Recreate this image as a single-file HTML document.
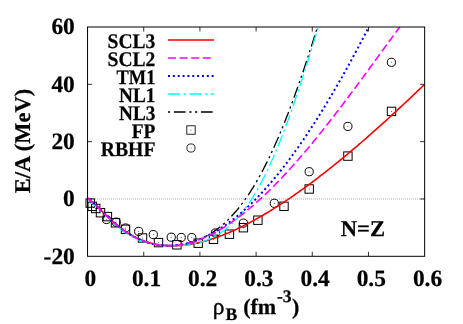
<!DOCTYPE html>
<html><head><meta charset="utf-8"><title>E/A</title>
<style>html,body{margin:0;padding:0;background:#fff;overflow:hidden}svg{display:block}text{font-family:"Liberation Serif",serif;font-weight:bold;font-size:22px;fill:#000;stroke:#000;stroke-width:0.25px;text-rendering:geometricPrecision}.lg{font-size:20.7px}.tk{font-size:23.4px}</style></head><body>
<svg width="463" height="324" viewBox="0 0 463 324">
<rect width="463" height="324" fill="#fff"/>
<line x1="89" y1="198.98" x2="424.65" y2="198.98" stroke="#a8a8a8" stroke-width="1" stroke-dasharray="1 1"/>
<path d="M143.73,256.3v-4.5M143.73,27.0v4.5M199.92,256.3v-4.5M199.92,27.0v4.5M256.10,256.3v-4.5M256.10,27.0v4.5M312.28,256.3v-4.5M312.28,27.0v4.5M368.47,256.3v-4.5M368.47,27.0v4.5M87.55,198.98h4.5M424.65,198.98h-4.5M87.55,141.65h4.5M424.65,141.65h-4.5M87.55,84.32h4.5M424.65,84.32h-4.5" stroke="#000" stroke-width="0.8" fill="none"/>
<clipPath id="c"><rect x="87.55" y="27.0" width="337.09999999999997" height="229.3"/></clipPath>
<g fill="none" stroke="#000" stroke-width="1">
<rect x="86.0" y="198.9" width="8.4" height="8.4"/><circle cx="90.2" cy="203.1" r="0.5" fill="#444" stroke="none"/>
<rect x="88.0" y="202.2" width="8.4" height="8.4"/><circle cx="92.2" cy="206.4" r="0.5" fill="#444" stroke="none"/>
<rect x="91.5" y="204.3" width="8.4" height="8.4"/><circle cx="95.7" cy="208.5" r="0.5" fill="#444" stroke="none"/>
<rect x="96.3" y="208.5" width="8.4" height="8.4"/><circle cx="100.5" cy="212.7" r="0.5" fill="#444" stroke="none"/>
<rect x="103.2" y="212.4" width="8.4" height="8.4"/><circle cx="107.4" cy="216.6" r="0.5" fill="#444" stroke="none"/>
<rect x="111.3" y="218.6" width="8.4" height="8.4"/><circle cx="115.5" cy="222.8" r="0.5" fill="#444" stroke="none"/>
<rect x="121.3" y="225.1" width="8.4" height="8.4"/><circle cx="125.5" cy="229.3" r="0.5" fill="#444" stroke="none"/>
<rect x="138.3" y="233.8" width="8.4" height="8.4"/><circle cx="142.5" cy="238.0" r="0.5" fill="#444" stroke="none"/>
<rect x="154.3" y="238.4" width="8.4" height="8.4"/><circle cx="158.5" cy="242.6" r="0.5" fill="#444" stroke="none"/>
<rect x="172.7" y="240.6" width="8.4" height="8.4"/><circle cx="176.9" cy="244.8" r="0.5" fill="#444" stroke="none"/>
<rect x="194.0" y="239.0" width="8.4" height="8.4"/><circle cx="198.2" cy="243.2" r="0.5" fill="#444" stroke="none"/>
<rect x="209.3" y="235.1" width="8.4" height="8.4"/><circle cx="213.5" cy="239.3" r="0.5" fill="#444" stroke="none"/>
<rect x="225.2" y="230.0" width="8.4" height="8.4"/><circle cx="229.4" cy="234.2" r="0.5" fill="#444" stroke="none"/>
<rect x="239.2" y="223.5" width="8.4" height="8.4"/><circle cx="243.4" cy="227.7" r="0.5" fill="#444" stroke="none"/>
<rect x="253.7" y="216.0" width="8.4" height="8.4"/><circle cx="257.9" cy="220.2" r="0.5" fill="#444" stroke="none"/>
<rect x="279.8" y="202.1" width="8.4" height="8.4"/><circle cx="284.0" cy="206.3" r="0.5" fill="#444" stroke="none"/>
<rect x="305.0" y="184.8" width="8.4" height="8.4"/><circle cx="309.2" cy="189.0" r="0.5" fill="#444" stroke="none"/>
<rect x="343.7" y="151.9" width="8.4" height="8.4"/><circle cx="347.9" cy="156.1" r="0.5" fill="#444" stroke="none"/>
<rect x="387.3" y="107.2" width="8.4" height="8.4"/><circle cx="391.5" cy="111.4" r="0.5" fill="#444" stroke="none"/>
<circle cx="106.5" cy="219.5" r="4.1"/><circle cx="106.5" cy="219.5" r="0.5" fill="#444" stroke="none"/>
<circle cx="116.2" cy="222.1" r="4.1"/><circle cx="116.2" cy="222.1" r="0.5" fill="#444" stroke="none"/>
<circle cx="125.5" cy="228.0" r="4.1"/><circle cx="125.5" cy="228.0" r="0.5" fill="#444" stroke="none"/>
<circle cx="138.7" cy="231.4" r="4.1"/><circle cx="138.7" cy="231.4" r="0.5" fill="#444" stroke="none"/>
<circle cx="153.3" cy="234.6" r="4.1"/><circle cx="153.3" cy="234.6" r="0.5" fill="#444" stroke="none"/>
<circle cx="171.2" cy="237.2" r="4.1"/><circle cx="171.2" cy="237.2" r="0.5" fill="#444" stroke="none"/>
<circle cx="181.2" cy="237.5" r="4.1"/><circle cx="181.2" cy="237.5" r="0.5" fill="#444" stroke="none"/>
<circle cx="191.8" cy="237.6" r="4.1"/><circle cx="191.8" cy="237.6" r="0.5" fill="#444" stroke="none"/>
<circle cx="215.4" cy="233.0" r="4.1"/><circle cx="215.4" cy="233.0" r="0.5" fill="#444" stroke="none"/>
<circle cx="243.4" cy="223.1" r="4.1"/><circle cx="243.4" cy="223.1" r="0.5" fill="#444" stroke="none"/>
<circle cx="274.3" cy="203.3" r="4.1"/><circle cx="274.3" cy="203.3" r="0.5" fill="#444" stroke="none"/>
<circle cx="309.2" cy="171.7" r="4.1"/><circle cx="309.2" cy="171.7" r="0.5" fill="#444" stroke="none"/>
<circle cx="347.9" cy="126.4" r="4.1"/><circle cx="347.9" cy="126.4" r="0.5" fill="#444" stroke="none"/>
<circle cx="391.4" cy="62.3" r="4.1"/><circle cx="391.4" cy="62.3" r="0.5" fill="#444" stroke="none"/>
<g stroke-width="0.85"><rect x="186.8" y="125.8" width="8.4" height="8.4"/><circle cx="191.0" cy="130.0" r="0.5" fill="#444" stroke="none"/><circle cx="191.0" cy="148.0" r="4.1"/><circle cx="191.0" cy="148.0" r="0.5" fill="#444" stroke="none"/></g>
</g>
<g clip-path="url(#c)" fill="none" stroke-width="2">
<path d="M87.8,198.2 L88.9,199.2 L90.0,200.3 L91.2,201.4 L92.3,202.5 L93.4,203.4 L94.5,204.4 L95.7,205.3 L96.8,206.2 L97.9,207.1 L99.0,208.1 L100.2,209.1 L101.3,210.2 L102.4,211.2 L103.5,212.3 L104.6,213.4 L105.8,214.5 L106.9,215.6 L108.0,216.7 L109.1,217.8 L110.3,218.8 L111.4,219.9 L112.5,221.0 L113.6,222.0 L114.7,223.0 L115.9,224.1 L117.0,225.0 L118.1,226.0 L119.2,226.9 L120.4,227.9 L121.5,228.8 L122.6,229.6 L123.7,230.5 L124.9,231.3 L126.0,232.1 L127.1,232.8 L128.2,233.6 L129.3,234.3 L130.5,235.0 L131.6,235.6 L132.7,236.3 L133.8,236.9 L135.0,237.5 L136.1,238.0 L137.2,238.6 L138.3,239.1 L139.5,239.6 L140.6,240.0 L141.7,240.5 L142.8,240.9 L143.9,241.3 L145.1,241.7 L146.2,242.0 L147.3,242.4 L148.4,242.7 L149.6,243.0 L150.7,243.3 L151.8,243.5 L152.9,243.8 L154.0,244.0 L155.2,244.2 L156.3,244.4 L157.4,244.6 L158.5,244.8 L159.7,244.9 L160.8,245.0 L161.9,245.1 L163.0,245.2 L164.2,245.3 L165.3,245.4 L166.4,245.4 L167.5,245.4 L168.6,245.4 L169.8,245.4 L170.9,245.4 L172.0,245.4 L173.1,245.3 L174.3,245.3 L175.4,245.2 L176.5,245.1 L177.6,245.0 L178.7,244.8 L179.9,244.7 L181.0,244.5 L182.1,244.3 L183.2,244.1 L184.4,243.9 L185.5,243.7 L186.6,243.5 L187.7,243.2 L188.9,242.9 L190.0,242.6 L191.1,242.3 L192.2,242.0 L193.3,241.6 L194.5,241.2 L195.6,240.8 L196.7,240.4 L197.8,240.0 L199.0,239.5 L200.1,239.1 L201.2,238.6 L202.3,238.1 L203.5,237.5 L204.6,237.0 L205.7,236.4 L206.8,235.8 L207.9,235.2 L209.1,234.5 L210.2,233.9 L211.3,233.2 L212.4,232.4 L213.6,231.7 L214.7,230.9 L215.8,230.1 L216.9,229.3 L218.0,228.5 L219.2,227.6 L220.3,226.7 L221.4,225.8 L222.5,224.8 L223.7,223.9 L224.8,222.9 L225.9,221.8 L227.0,220.8 L228.2,219.7 L229.3,218.6 L230.4,217.4 L231.5,216.2 L232.6,215.0 L233.8,213.8 L234.9,212.5 L236.0,211.2 L237.1,209.9 L238.3,208.5 L239.4,207.1 L240.5,205.7 L241.6,204.2 L242.8,202.7 L243.9,201.2 L245.0,199.6 L246.1,198.0 L247.2,196.4 L248.4,194.8 L249.5,193.1 L250.6,191.3 L251.7,189.6 L252.9,187.8 L254.0,185.9 L255.1,184.1 L256.2,182.2 L257.3,180.2 L258.5,178.2 L259.6,176.2 L260.7,174.2 L261.8,172.1 L263.0,170.0 L264.1,167.8 L265.2,165.6 L266.3,163.4 L267.5,161.2 L268.6,158.9 L269.7,156.5 L270.8,154.2 L271.9,151.8 L273.1,149.3 L274.2,146.9 L275.3,144.3 L276.4,141.8 L277.6,139.2 L278.7,136.6 L279.8,134.0 L280.9,131.3 L282.1,128.6 L283.2,125.8 L284.3,123.0 L285.4,120.2 L286.5,117.3 L287.7,114.5 L288.8,111.5 L289.9,108.6 L291.0,105.6 L292.2,102.6 L293.3,99.5 L294.4,96.5 L295.5,93.3 L296.6,90.2 L297.8,87.0 L298.9,83.8 L300.0,80.6 L301.1,77.3 L302.3,74.1 L303.4,70.7 L304.5,67.4 L305.6,64.0 L306.8,60.6 L307.9,57.2 L309.0,53.8 L310.1,50.3 L311.2,46.8 L312.4,43.3 L313.5,39.8 L314.6,36.2 L315.7,32.6 L316.9,29.0 L318.0,25.4 L319.1,21.8 L320.2,18.1 L321.3,14.4 L322.5,10.7" stroke="#000000" stroke-width="1.33" stroke-dasharray="2.2 3.7 11.7 3.7 2.2 3.5"/>
<path d="M87.8,198.2 L88.9,199.2 L90.0,200.3 L91.2,201.3 L92.3,202.1 L93.4,203.1 L94.5,204.0 L95.7,205.1 L96.8,206.1 L97.9,207.2 L99.0,208.3 L100.2,209.4 L101.3,210.6 L102.4,211.7 L103.5,212.8 L104.6,213.9 L105.8,215.0 L106.9,216.1 L108.0,217.2 L109.1,218.2 L110.3,219.3 L111.4,220.3 L112.5,221.3 L113.6,222.3 L114.7,223.3 L115.9,224.2 L117.0,225.2 L118.1,226.1 L119.2,227.0 L120.4,227.8 L121.5,228.7 L122.6,229.5 L123.7,230.3 L124.9,231.1 L126.0,231.8 L127.1,232.5 L128.2,233.3 L129.3,233.9 L130.5,234.6 L131.6,235.3 L132.7,235.9 L133.8,236.5 L135.0,237.1 L136.1,237.6 L137.2,238.2 L138.3,238.7 L139.5,239.2 L140.6,239.7 L141.7,240.1 L142.8,240.5 L143.9,241.0 L145.1,241.4 L146.2,241.8 L147.3,242.1 L148.4,242.5 L149.6,242.8 L150.7,243.1 L151.8,243.4 L152.9,243.7 L154.0,243.9 L155.2,244.2 L156.3,244.4 L157.4,244.6 L158.5,244.8 L159.7,245.0 L160.8,245.1 L161.9,245.3 L163.0,245.4 L164.2,245.5 L165.3,245.6 L166.4,245.7 L167.5,245.8 L168.6,245.8 L169.8,245.9 L170.9,245.9 L172.0,245.9 L173.1,245.9 L174.3,245.9 L175.4,245.9 L176.5,245.8 L177.6,245.8 L178.7,245.7 L179.9,245.6 L181.0,245.5 L182.1,245.4 L183.2,245.3 L184.4,245.2 L185.5,245.1 L186.6,244.9 L187.7,244.8 L188.9,244.6 L190.0,244.4 L191.1,244.2 L192.2,244.0 L193.3,243.8 L194.5,243.6 L195.6,243.4 L196.7,243.1 L197.8,242.9 L199.0,242.6 L200.1,242.4 L201.2,242.1 L202.3,241.8 L203.5,241.5 L204.6,241.2 L205.7,240.9 L206.8,240.6 L207.9,240.2 L209.1,239.9 L210.2,239.5 L211.3,239.2 L212.4,238.8 L213.6,238.4 L214.7,238.1 L215.8,237.7 L216.9,237.3 L218.0,236.9 L219.2,236.4 L220.3,236.0 L221.4,235.6 L222.5,235.2 L223.7,234.7 L224.8,234.3 L225.9,233.8 L227.0,233.3 L228.2,232.9 L229.3,232.4 L230.4,231.9 L231.5,231.4 L232.6,230.9 L233.8,230.4 L234.9,229.9 L236.0,229.4 L237.1,228.9 L238.3,228.3 L239.4,227.8 L240.5,227.2 L241.6,226.7 L242.8,226.1 L243.9,225.6 L245.0,225.0 L246.1,224.4 L247.2,223.9 L248.4,223.3 L249.5,222.7 L250.6,222.1 L251.7,221.5 L252.9,220.9 L254.0,220.3 L255.1,219.6 L256.2,219.0 L257.3,218.4 L258.5,217.8 L259.6,217.1 L260.7,216.5 L261.8,215.8 L263.0,215.2 L264.1,214.5 L265.2,213.8 L266.3,213.2 L267.5,212.5 L268.6,211.8 L269.7,211.1 L270.8,210.5 L271.9,209.8 L273.1,209.1 L274.2,208.4 L275.3,207.7 L276.4,206.9 L277.6,206.2 L278.7,205.5 L279.8,204.8 L280.9,204.1 L282.1,203.3 L283.2,202.6 L284.3,201.8 L285.4,201.1 L286.5,200.3 L287.7,199.6 L288.8,198.8 L289.9,198.1 L291.0,197.3 L292.2,196.5 L293.3,195.8 L294.4,195.0 L295.5,194.2 L296.6,193.4 L297.8,192.6 L298.9,191.8 L300.0,191.0 L301.1,190.2 L302.3,189.4 L303.4,188.6 L304.5,187.8 L305.6,187.0 L306.8,186.2 L307.9,185.3 L309.0,184.5 L310.1,183.7 L311.2,182.8 L312.4,182.0 L313.5,181.2 L314.6,180.3 L315.7,179.5 L316.9,178.6 L318.0,177.8 L319.1,176.9 L320.2,176.0 L321.3,175.2 L322.5,174.3 L323.6,173.4 L324.7,172.6 L325.8,171.7 L327.0,170.8 L328.1,169.9 L329.2,169.0 L330.3,168.1 L331.5,167.2 L332.6,166.3 L333.7,165.4 L334.8,164.5 L335.9,163.6 L337.1,162.7 L338.2,161.8 L339.3,160.9 L340.4,160.0 L341.6,159.1 L342.7,158.1 L343.8,157.2 L344.9,156.3 L346.1,155.3 L347.2,154.4 L348.3,153.5 L349.4,152.5 L350.5,151.6 L351.7,150.6 L352.8,149.7 L353.9,148.7 L355.0,147.8 L356.2,146.8 L357.3,145.9 L358.4,144.9 L359.5,143.9 L360.6,143.0 L361.8,142.0 L362.9,141.0 L364.0,140.1 L365.1,139.1 L366.3,138.1 L367.4,137.1 L368.5,136.1 L369.6,135.1 L370.8,134.2 L371.9,133.2 L373.0,132.2 L374.1,131.2 L375.2,130.2 L376.4,129.2 L377.5,128.2 L378.6,127.2 L379.7,126.2 L380.9,125.1 L382.0,124.1 L383.1,123.1 L384.2,122.1 L385.4,121.1 L386.5,120.1 L387.6,119.0 L388.7,118.0 L389.8,117.0 L391.0,116.0 L392.1,114.9 L393.2,113.9 L394.3,112.9 L395.5,111.8 L396.6,110.8 L397.7,109.7 L398.8,108.7 L399.9,107.7 L401.1,106.6 L402.2,105.6 L403.3,104.5 L404.4,103.5 L405.6,102.4 L406.7,101.4 L407.8,100.3 L408.9,99.3 L410.1,98.2 L411.2,97.1 L412.3,96.1 L413.4,95.0 L414.5,93.9 L415.7,92.9 L416.8,91.8 L417.9,90.7 L419.0,89.7 L420.2,88.6 L421.3,87.5 L422.4,86.5 L423.5,85.4 L424.6,84.3" stroke="#ff0000" stroke-width="1.6"/>
<path d="M87.8,198.2 L88.9,199.2 L90.0,200.3 L91.2,201.7 L92.3,203.2 L93.4,204.4 L94.5,205.3 L95.7,206.2 L96.8,207.1 L97.9,208.0 L99.0,208.9 L100.2,209.8 L101.3,210.8 L102.4,211.8 L103.5,212.9 L104.6,214.0 L105.8,215.0 L106.9,216.1 L108.0,217.2 L109.1,218.4 L110.3,219.5 L111.4,220.6 L112.5,221.7 L113.6,222.7 L114.7,223.8 L115.9,224.8 L117.0,225.9 L118.1,226.9 L119.2,227.8 L120.4,228.8 L121.5,229.7 L122.6,230.6 L123.7,231.4 L124.9,232.2 L126.0,233.0 L127.1,233.8 L128.2,234.5 L129.3,235.2 L130.5,235.9 L131.6,236.5 L132.7,237.2 L133.8,237.7 L135.0,238.3 L136.1,238.8 L137.2,239.3 L138.3,239.8 L139.5,240.3 L140.6,240.7 L141.7,241.1 L142.8,241.5 L143.9,241.9 L145.1,242.2 L146.2,242.5 L147.3,242.8 L148.4,243.1 L149.6,243.4 L150.7,243.6 L151.8,243.9 L152.9,244.1 L154.0,244.3 L155.2,244.5 L156.3,244.6 L157.4,244.8 L158.5,244.9 L159.7,245.1 L160.8,245.2 L161.9,245.3 L163.0,245.4 L164.2,245.5 L165.3,245.5 L166.4,245.6 L167.5,245.7 L168.6,245.7 L169.8,245.7 L170.9,245.8 L172.0,245.8 L173.1,245.8 L174.3,245.8 L175.4,245.7 L176.5,245.7 L177.6,245.7 L178.7,245.6 L179.9,245.6 L181.0,245.5 L182.1,245.4 L183.2,245.3 L184.4,245.2 L185.5,245.1 L186.6,244.9 L187.7,244.8 L188.9,244.6 L190.0,244.5 L191.1,244.3 L192.2,244.1 L193.3,243.9 L194.5,243.7 L195.6,243.4 L196.7,243.2 L197.8,242.9 L199.0,242.6 L200.1,242.3 L201.2,242.0 L202.3,241.6 L203.5,241.3 L204.6,240.9 L205.7,240.5 L206.8,240.0 L207.9,239.6 L209.1,239.1 L210.2,238.6 L211.3,238.1 L212.4,237.6 L213.6,237.0 L214.7,236.4 L215.8,235.8 L216.9,235.2 L218.0,234.5 L219.2,233.8 L220.3,233.1 L221.4,232.3 L222.5,231.5 L223.7,230.7 L224.8,229.9 L225.9,229.0 L227.0,228.1 L228.2,227.1 L229.3,226.2 L230.4,225.2 L231.5,224.1 L232.6,223.0 L233.8,221.9 L234.9,220.8 L236.0,219.6 L237.1,218.4 L238.3,217.1 L239.4,215.8 L240.5,214.5 L241.6,213.1 L242.8,211.7 L243.9,210.3 L245.0,208.8 L246.1,207.3 L247.2,205.7 L248.4,204.1 L249.5,202.4 L250.6,200.7 L251.7,199.0 L252.9,197.2 L254.0,195.4 L255.1,193.5 L256.2,191.6 L257.3,189.7 L258.5,187.7 L259.6,185.7 L260.7,183.6 L261.8,181.5 L263.0,179.3 L264.1,177.1 L265.2,174.9 L266.3,172.6 L267.5,170.3 L268.6,167.9 L269.7,165.5 L270.8,163.0 L271.9,160.5 L273.1,158.0 L274.2,155.4 L275.3,152.8 L276.4,150.1 L277.6,147.4 L278.7,144.6 L279.8,141.8 L280.9,139.0 L282.1,136.1 L283.2,133.2 L284.3,130.3 L285.4,127.3 L286.5,124.3 L287.7,121.2 L288.8,118.2 L289.9,115.0 L291.0,111.9 L292.2,108.7 L293.3,105.5 L294.4,102.2 L295.5,98.9 L296.6,95.6 L297.8,92.2 L298.9,88.9 L300.0,85.5 L301.1,82.0 L302.3,78.6 L303.4,75.1 L304.5,71.6 L305.6,68.1 L306.8,64.5 L307.9,61.0 L309.0,57.4 L310.1,53.8 L311.2,50.2 L312.4,46.6 L313.5,42.9 L314.6,39.3 L315.7,35.6 L316.9,32.0 L318.0,28.3 L319.1,24.6 L320.2,21.0 L321.3,17.3 L322.5,13.6 L323.6,10.0" stroke="#00ffff" stroke-width="1.33" stroke-dasharray="11.9 3.7 2.3 3.5"/>
<path d="M87.8,198.2 L88.9,199.2 L90.0,200.3 L91.2,201.3 L92.3,202.2 L93.4,203.1 L94.5,204.1 L95.7,205.1 L96.8,206.2 L97.9,207.3 L99.0,208.3 L100.2,209.4 L101.3,210.5 L102.4,211.6 L103.5,212.7 L104.6,213.8 L105.8,214.9 L106.9,216.0 L108.0,217.0 L109.1,218.1 L110.3,219.1 L111.4,220.2 L112.5,221.2 L113.6,222.2 L114.7,223.1 L115.9,224.1 L117.0,225.0 L118.1,225.9 L119.2,226.8 L120.4,227.7 L121.5,228.6 L122.6,229.4 L123.7,230.2 L124.9,231.0 L126.0,231.8 L127.1,232.5 L128.2,233.2 L129.3,234.0 L130.5,234.6 L131.6,235.3 L132.7,235.9 L133.8,236.6 L135.0,237.2 L136.1,237.7 L137.2,238.3 L138.3,238.8 L139.5,239.3 L140.6,239.8 L141.7,240.3 L142.8,240.8 L143.9,241.2 L145.1,241.6 L146.2,242.0 L147.3,242.3 L148.4,242.7 L149.6,243.0 L150.7,243.3 L151.8,243.6 L152.9,243.9 L154.0,244.1 L155.2,244.4 L156.3,244.6 L157.4,244.8 L158.5,244.9 L159.7,245.1 L160.8,245.2 L161.9,245.3 L163.0,245.4 L164.2,245.5 L165.3,245.6 L166.4,245.6 L167.5,245.7 L168.6,245.7 L169.8,245.6 L170.9,245.6 L172.0,245.6 L173.1,245.5 L174.3,245.4 L175.4,245.3 L176.5,245.2 L177.6,245.1 L178.7,244.9 L179.9,244.8 L181.0,244.6 L182.1,244.4 L183.2,244.2 L184.4,244.0 L185.5,243.7 L186.6,243.5 L187.7,243.2 L188.9,242.9 L190.0,242.6 L191.1,242.3 L192.2,241.9 L193.3,241.6 L194.5,241.2 L195.6,240.8 L196.7,240.4 L197.8,240.0 L199.0,239.5 L200.1,239.1 L201.2,238.6 L202.3,238.2 L203.5,237.7 L204.6,237.1 L205.7,236.6 L206.8,236.1 L207.9,235.5 L209.1,235.0 L210.2,234.4 L211.3,233.8 L212.4,233.2 L213.6,232.6 L214.7,231.9 L215.8,231.3 L216.9,230.6 L218.0,229.9 L219.2,229.2 L220.3,228.5 L221.4,227.8 L222.5,227.0 L223.7,226.3 L224.8,225.5 L225.9,224.8 L227.0,224.0 L228.2,223.1 L229.3,222.3 L230.4,221.5 L231.5,220.6 L232.6,219.8 L233.8,218.9 L234.9,218.0 L236.0,217.1 L237.1,216.2 L238.3,215.3 L239.4,214.3 L240.5,213.4 L241.6,212.4 L242.8,211.4 L243.9,210.4 L245.0,209.4 L246.1,208.4 L247.2,207.4 L248.4,206.3 L249.5,205.2 L250.6,204.2 L251.7,203.1 L252.9,202.0 L254.0,200.9 L255.1,199.7 L256.2,198.6 L257.3,197.5 L258.5,196.3 L259.6,195.1 L260.7,193.9 L261.8,192.7 L263.0,191.5 L264.1,190.3 L265.2,189.0 L266.3,187.8 L267.5,186.5 L268.6,185.2 L269.7,184.0 L270.8,182.7 L271.9,181.3 L273.1,180.0 L274.2,178.7 L275.3,177.3 L276.4,176.0 L277.6,174.6 L278.7,173.2 L279.8,171.8 L280.9,170.4 L282.1,169.0 L283.2,167.5 L284.3,166.1 L285.4,164.6 L286.5,163.1 L287.7,161.7 L288.8,160.2 L289.9,158.7 L291.0,157.1 L292.2,155.6 L293.3,154.1 L294.4,152.5 L295.5,150.9 L296.6,149.4 L297.8,147.8 L298.9,146.2 L300.0,144.6 L301.1,143.0 L302.3,141.3 L303.4,139.7 L304.5,138.0 L305.6,136.4 L306.8,134.7 L307.9,133.0 L309.0,131.3 L310.1,129.6 L311.2,127.9 L312.4,126.1 L313.5,124.4 L314.6,122.7 L315.7,120.9 L316.9,119.1 L318.0,117.3 L319.1,115.6 L320.2,113.7 L321.3,111.9 L322.5,110.1 L323.6,108.3 L324.7,106.4 L325.8,104.6 L327.0,102.7 L328.1,100.9 L329.2,99.0 L330.3,97.1 L331.5,95.2 L332.6,93.3 L333.7,91.4 L334.8,89.4 L335.9,87.5 L337.1,85.5 L338.2,83.6 L339.3,81.6 L340.4,79.6 L341.6,77.7 L342.7,75.7 L343.8,73.7 L344.9,71.7 L346.1,69.7 L347.2,67.6 L348.3,65.6 L349.4,63.6 L350.5,61.5 L351.7,59.5 L352.8,57.4 L353.9,55.3 L355.0,53.2 L356.2,51.1 L357.3,49.1 L358.4,46.9 L359.5,44.8 L360.6,42.7 L361.8,40.6 L362.9,38.5 L364.0,36.3 L365.1,34.2 L366.3,32.0 L367.4,29.9 L368.5,27.7 L369.6,25.5 L370.8,23.4 L371.9,21.2 L373.0,19.0 L374.1,16.8 L375.2,14.6 L376.4,12.4 L377.5,10.2" stroke="#0000ff" stroke-width="2" stroke-dasharray="2 2.85" stroke-dashoffset="2.7"/>
<path d="M87.8,198.2 L88.9,199.2 L90.0,200.3 L91.2,201.3 L92.3,202.2 L93.4,203.1 L94.5,204.1 L95.7,205.1 L96.8,206.2 L97.9,207.3 L99.0,208.3 L100.2,209.4 L101.3,210.5 L102.4,211.6 L103.5,212.7 L104.6,213.8 L105.8,214.9 L106.9,216.0 L108.0,217.1 L109.1,218.1 L110.3,219.2 L111.4,220.2 L112.5,221.2 L113.6,222.2 L114.7,223.1 L115.9,224.1 L117.0,225.0 L118.1,225.9 L119.2,226.8 L120.4,227.7 L121.5,228.6 L122.6,229.4 L123.7,230.2 L124.9,231.0 L126.0,231.8 L127.1,232.5 L128.2,233.2 L129.3,234.0 L130.5,234.6 L131.6,235.3 L132.7,235.9 L133.8,236.6 L135.0,237.2 L136.1,237.7 L137.2,238.3 L138.3,238.8 L139.5,239.3 L140.6,239.8 L141.7,240.3 L142.8,240.7 L143.9,241.2 L145.1,241.6 L146.2,242.0 L147.3,242.3 L148.4,242.7 L149.6,243.0 L150.7,243.3 L151.8,243.6 L152.9,243.9 L154.0,244.1 L155.2,244.3 L156.3,244.6 L157.4,244.8 L158.5,244.9 L159.7,245.1 L160.8,245.2 L161.9,245.3 L163.0,245.4 L164.2,245.5 L165.3,245.6 L166.4,245.6 L167.5,245.6 L168.6,245.7 L169.8,245.6 L170.9,245.6 L172.0,245.6 L173.1,245.5 L174.3,245.4 L175.4,245.4 L176.5,245.2 L177.6,245.1 L178.7,245.0 L179.9,244.8 L181.0,244.6 L182.1,244.5 L183.2,244.3 L184.4,244.0 L185.5,243.8 L186.6,243.5 L187.7,243.3 L188.9,243.0 L190.0,242.7 L191.1,242.4 L192.2,242.1 L193.3,241.7 L194.5,241.4 L195.6,241.0 L196.7,240.6 L197.8,240.2 L199.0,239.8 L200.1,239.4 L201.2,239.0 L202.3,238.5 L203.5,238.0 L204.6,237.6 L205.7,237.1 L206.8,236.6 L207.9,236.0 L209.1,235.5 L210.2,235.0 L211.3,234.4 L212.4,233.8 L213.6,233.3 L214.7,232.7 L215.8,232.1 L216.9,231.4 L218.0,230.8 L219.2,230.2 L220.3,229.5 L221.4,228.8 L222.5,228.2 L223.7,227.5 L224.8,226.8 L225.9,226.0 L227.0,225.3 L228.2,224.6 L229.3,223.8 L230.4,223.1 L231.5,222.3 L232.6,221.5 L233.8,220.7 L234.9,219.9 L236.0,219.1 L237.1,218.3 L238.3,217.5 L239.4,216.6 L240.5,215.8 L241.6,214.9 L242.8,214.0 L243.9,213.1 L245.0,212.2 L246.1,211.3 L247.2,210.4 L248.4,209.5 L249.5,208.5 L250.6,207.6 L251.7,206.6 L252.9,205.7 L254.0,204.7 L255.1,203.7 L256.2,202.7 L257.3,201.7 L258.5,200.7 L259.6,199.7 L260.7,198.7 L261.8,197.6 L263.0,196.6 L264.1,195.5 L265.2,194.5 L266.3,193.4 L267.5,192.3 L268.6,191.2 L269.7,190.1 L270.8,189.0 L271.9,187.9 L273.1,186.8 L274.2,185.7 L275.3,184.5 L276.4,183.4 L277.6,182.2 L278.7,181.1 L279.8,179.9 L280.9,178.7 L282.1,177.5 L283.2,176.3 L284.3,175.1 L285.4,173.9 L286.5,172.7 L287.7,171.5 L288.8,170.3 L289.9,169.0 L291.0,167.8 L292.2,166.5 L293.3,165.3 L294.4,164.0 L295.5,162.7 L296.6,161.5 L297.8,160.2 L298.9,158.9 L300.0,157.6 L301.1,156.3 L302.3,155.0 L303.4,153.7 L304.5,152.4 L305.6,151.0 L306.8,149.7 L307.9,148.4 L309.0,147.0 L310.1,145.7 L311.2,144.3 L312.4,143.0 L313.5,141.6 L314.6,140.2 L315.7,138.9 L316.9,137.5 L318.0,136.1 L319.1,134.7 L320.2,133.3 L321.3,131.9 L322.5,130.5 L323.6,129.1 L324.7,127.7 L325.8,126.2 L327.0,124.8 L328.1,123.4 L329.2,122.0 L330.3,120.5 L331.5,119.1 L332.6,117.6 L333.7,116.2 L334.8,114.7 L335.9,113.3 L337.1,111.8 L338.2,110.4 L339.3,108.9 L340.4,107.4 L341.6,105.9 L342.7,104.5 L343.8,103.0 L344.9,101.5 L346.1,100.0 L347.2,98.5 L348.3,97.0 L349.4,95.5 L350.5,94.0 L351.7,92.5 L352.8,91.0 L353.9,89.5 L355.0,88.0 L356.2,86.5 L357.3,85.0 L358.4,83.4 L359.5,81.9 L360.6,80.4 L361.8,78.9 L362.9,77.4 L364.0,75.8 L365.1,74.3 L366.3,72.8 L367.4,71.2 L368.5,69.7 L369.6,68.2 L370.8,66.6 L371.9,65.1 L373.0,63.6 L374.1,62.0 L375.2,60.5 L376.4,59.0 L377.5,57.4 L378.6,55.9 L379.7,54.3 L380.9,52.8 L382.0,51.3 L383.1,49.7 L384.2,48.2 L385.4,46.6 L386.5,45.1 L387.6,43.6 L388.7,42.0 L389.8,40.5 L391.0,38.9 L392.1,37.4 L393.2,35.9 L394.3,34.3 L395.5,32.8 L396.6,31.3 L397.7,29.7 L398.8,28.2 L399.9,26.7 L401.1,25.1 L402.2,23.6 L403.3,22.1 L404.4,20.6 L405.6,19.0 L406.7,17.5 L407.8,16.0 L408.9,14.5 L410.1,13.0 L411.2,11.5" stroke="#ff00ff" stroke-width="1.6" stroke-dasharray="8 3.6" stroke-dashoffset="0.9"/>
</g>
<rect x="87.55" y="27.0" width="337.09999999999997" height="229.3" fill="none" stroke="#000" stroke-width="1"/>
<line x1="168" y1="40.0" x2="214" y2="40.0" stroke="#ff0000" stroke-width="1.6"/>
<line x1="168" y1="58.0" x2="214" y2="58.0" stroke="#ff00ff" stroke-width="1.6" stroke-dasharray="8 3.6"/>
<line x1="168" y1="76.0" x2="214" y2="76.0" stroke="#0000ff" stroke-width="2" stroke-dasharray="2 2.85"/>
<line x1="168" y1="94.0" x2="214" y2="94.0" stroke="#00ffff" stroke-width="1.33" stroke-dasharray="11.9 3.7 2.3 3.5"/>
<line x1="168" y1="112.0" x2="214" y2="112.0" stroke="#000000" stroke-width="1.33" stroke-dasharray="2.2 3.7 11.7 3.7 2.2 3.5"/>
<g opacity="0.999">
<text class="lg" transform="translate(155.4,47.9) scale(0.945,1)" text-anchor="end">SCL3</text>
<text class="lg" transform="translate(155.4,65.9) scale(0.945,1)" text-anchor="end">SCL2</text>
<text class="lg" transform="translate(155.4,83.9) scale(0.89,1)" text-anchor="end">TM1</text>
<text class="lg" transform="translate(155.4,101.9) scale(0.93,1)" text-anchor="end">NL1</text>
<text class="lg" transform="translate(155.4,119.9) scale(0.93,1)" text-anchor="end">NL3</text>
<text class="lg" transform="translate(155.4,137.9) scale(0.935,1)" text-anchor="end">FP</text>
<text class="lg" transform="translate(155.4,155.9) scale(0.95,1)" text-anchor="end">RBHF</text>
<text class="tk" x="74.8" y="263.7" text-anchor="end">-20</text>
<text class="tk" x="74.8" y="206.4" text-anchor="end">0</text>
<text class="tk" x="74.8" y="149.1" text-anchor="end">20</text>
<text class="tk" x="74.8" y="91.7" text-anchor="end">40</text>
<text class="tk" x="74.8" y="34.4" text-anchor="end">60</text>
<text x="90.3" y="286.3" text-anchor="middle" class="tk">0</text>
<text x="146.5" y="286.3" text-anchor="middle" class="tk">0.1</text>
<text x="202.7" y="286.3" text-anchor="middle" class="tk">0.2</text>
<text x="258.9" y="286.3" text-anchor="middle" class="tk">0.3</text>
<text x="315.1" y="286.3" text-anchor="middle" class="tk">0.4</text>
<text x="371.3" y="286.3" text-anchor="middle" class="tk">0.5</text>
<text x="427.5" y="286.3" text-anchor="middle" class="tk">0.6</text>
<text x="340.7" y="235.7" style="font-size:22.6px">N=Z</text>
<text transform="translate(29.7,141.0) rotate(-90)" text-anchor="middle" style="font-size:22.5px">E/A (MeV)</text>
<text><tspan x="212.7" y="313.5" style="font-weight:normal;font-size:23.4px;stroke-width:0.4px">ρ</tspan><tspan x="225.5" y="320.1" style="font-size:17.6px">B</tspan><tspan x="237.7" y="313.5"> (fm</tspan><tspan x="277.0" y="302.4" style="font-size:17.6px">-3</tspan><tspan x="291.9" y="313.5">)</tspan></text>
</g>
</svg></body></html>
